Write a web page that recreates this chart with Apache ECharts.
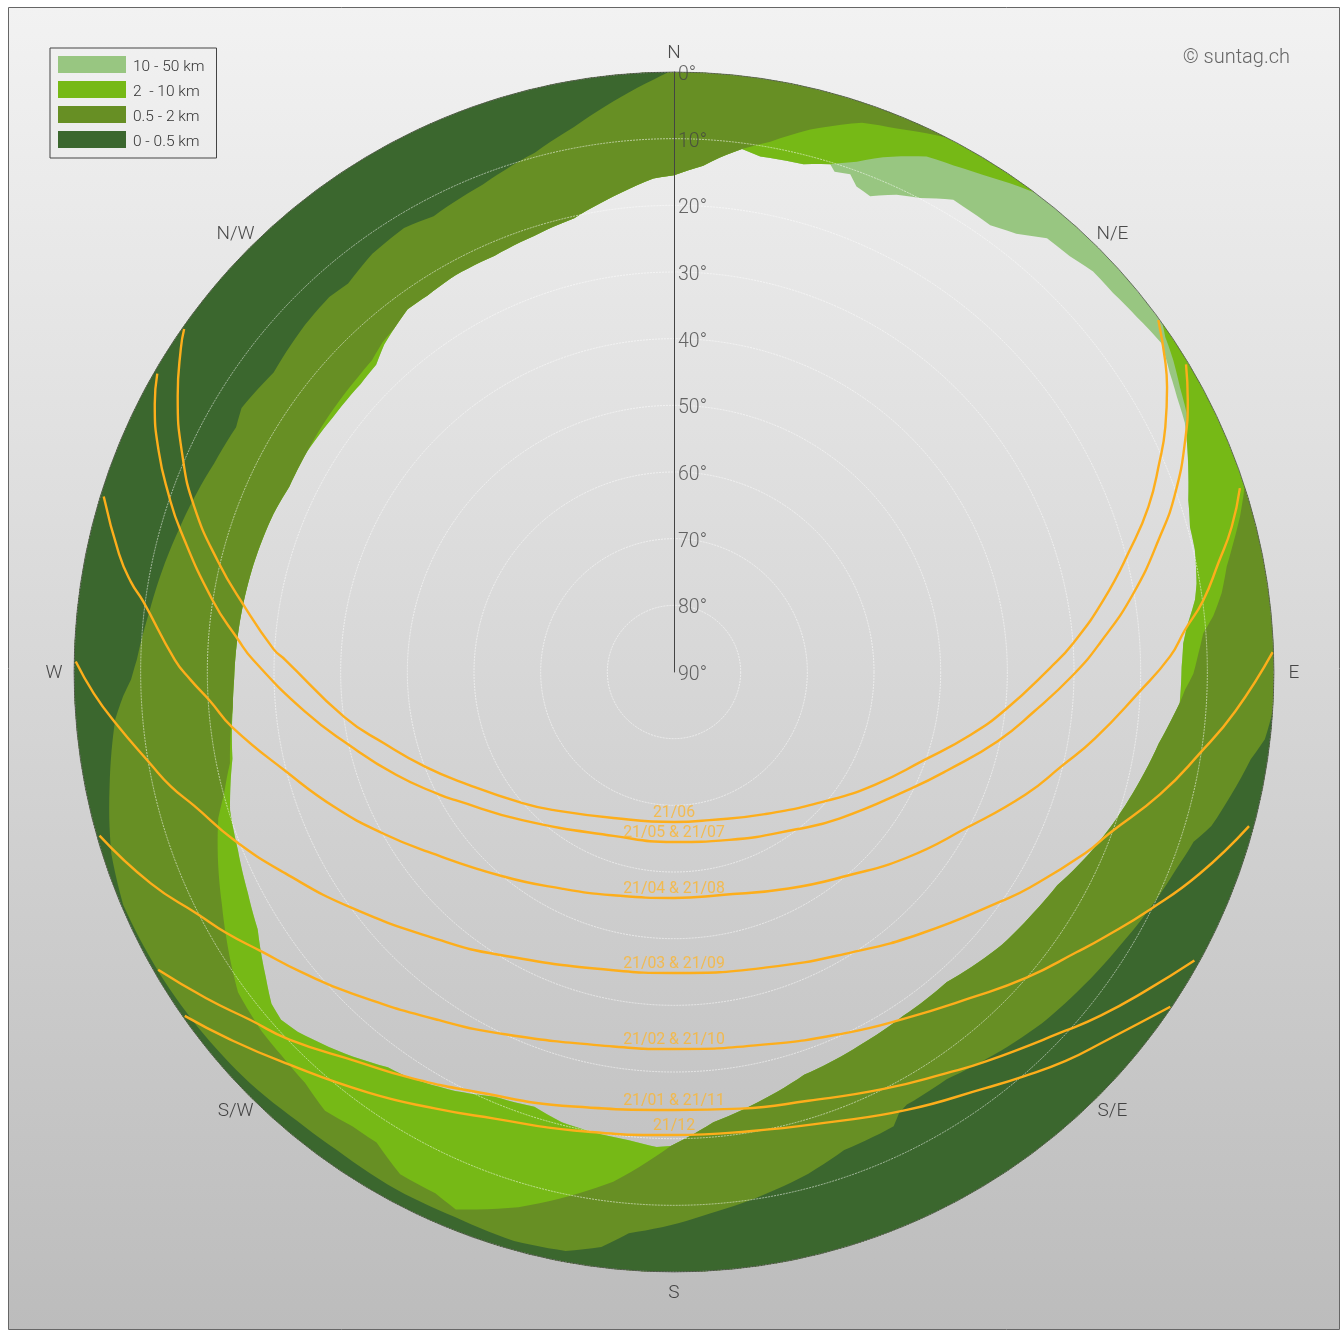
<!DOCTYPE html>
<html><head><meta charset="utf-8">
<style>html,body{margin:0;padding:0;background:#fff}#c{width:1341px;height:1330px}</style>
<script src="https://cdn.jsdelivr.net/npm/echarts@6/dist/echarts.min.js"></script>
</head><body><div id="c"></div>
<script>
// All profile data: [azimuth deg, elevation deg]
const legendNames = ['10 - 50 km', '2  - 10 km', '0.5 - 2 km', '0 - 0.5 km'];
const compass = ['N','N/E','E','S/E','S','S/W','W','N/W'];
const compassAzimuths = [0,45,90,135,180,225,270,315];
const compassElevation = -3;
const elevationTicks = [0,10,20,30,40,50,60,70,80,90];

const edgeNorth = [[0,15.5],[3.3,13.95],[5.1,12.5],[7.4,10.9]];
const edgeNorthBright = [[9.5,11.6],[14.3,11.4],[17.1,10.3]];
const midTopNE = [[10.3,9.15],[14.1,6.1],[18.9,2.9],[22.3,1.9],[25.1,0.75],[27,0],[72,0],[74.7,2],[77,3.9],[79.2,5.6],[81.8,7],[84.1,8.7],[85.8,10.4],[88,11.3],[90.2,12.1],[92,13.3],[93.5,14]];
const brightTopNE = [[19.7,8.7],[22.1,6.65],[24.6,4.9],[26.1,3.9],[28.9,3.2],[31.9,2.2],[34.5,1.05],[37,0],[54.5,0],[55.7,0.8],[58,1.7],[60.6,2.9],[63.2,3.85],[65.7,5.6]];
const lightTopNE = [[17.8,11.2],[19.5,10.8],[20.6,12.2],[22.4,12.8],[25,11],[27.4,9.9],[30.6,7.7],[31.9,7.8],[35.3,7.9],[38,6.6],[40.7,4.2],[43.6,3.9],[46.3,3.05],[49.2,3],[52.5,2.5],[56,1.8],[58.9,3.15],[61.3,4],[64,4.75],[65.7,5.6]];
const edgeEastBright = [[68.9,7.3],[71.5,8.65],[74.3,9.6],[76.8,9.75],[80.4,10.5],[82.1,11.1],[85,12.8],[86.8,13.5],[89.4,13.85],[93.5,14]];
const edgeSouthEast = [[95.4,15],[98.4,16.5],[103.9,18.5],[109.1,20.35],[113.6,22],[119.1,24.2],[123.8,25.1],[129.7,26],[138.7,28.05],[146.3,28],[153.6,27.45],[162.1,26.5],[169.1,24.2],[175,22.2],[180.4,18.9]];
const midTopSW = [[186.8,13],[191.2,9.9],[196.2,6.4],[202.1,3],[204.6,4],[208.6,4.2],[212.3,6.5],[215.3,6.5],[218.5,5.9],[221.9,7.15],[225.7,7.7],[228.9,7.95],[233.7,8.85],[239.4,11.95],[242.7,13.7],[247.9,16.15],[252.2,18.2],[254.8,20.05],[258.4,22],[265.4,23.6]];
const brightTopSW = [[182.1,18.7],[185.5,19.45],[189.9,19.9],[194,20.4],[197.8,21.5],[202.9,20.85],[207.6,19.1],[213.3,17.3],[215.9,16.8],[220.8,14.4],[226.3,11.9],[228.5,11.3],[230.5,11.75],[233.3,13.6],[238.3,16.6],[242.6,18],[247.8,19.35],[252.7,20.25],[258.9,22.5],[265.4,23.6]];
const edgeWest = [[269,24],[279.3,24.6],[284.4,24.9],[291.5,25.4],[295.7,25.95],[301,25.8]];
const brightSliverTop = [[306.7,26.15],[312.6,26.15],[315.9,25.8],[318.5,24.4],[320.8,23.55]];
const midSliverTop = [[306.7,25.5],[312.6,25.2],[315.9,24.9],[318.5,24],[320.8,23.55]];
const edgeNorthWest = [[323.7,22.5],[326.8,22.5],[331.1,22.05],[336.7,22],[342.2,21.3],[347.6,20.3],[352.7,18.1],[357.6,15.9],[360,15.5]];
const darkTop = [[0,0],[93.8,0],[96.5,0.8],[98.6,2.5],[102.4,4.4],[106,6.15],[108.1,8],[111.5,9.1],[116,10.2],[121.4,11.5],[128.4,12.8],[133.7,13.7],[141.1,15.4],[146.2,16.5],[151.7,16.3],[152.9,15.8],[154.2,14.3],[160.4,13.9],[165,12.1],[171,10.2],[176.2,8.6],[180.4,7],[184.6,5.55],[187.2,3.05],[190.6,1.65],[195.7,1.35],[201.9,1.9],[208.2,1.9],[215.2,2.25],[220,2.1],[225.9,1.4],[233.2,0.9],[239.8,0.55],[247.1,0.3],[252.1,1.3],[255.5,2.5],[258.5,3.6],[262,4.8],[265.2,5.9],[267.5,7.3],[269.2,8.55],[271.3,9.4],[276.4,10.75],[286,12.7],[294.4,14.25],[299.2,14.75],[301.4,14],[306.8,15],[313.3,14],[317.4,13.6],[320,13.95],[324.2,12.65],[328.7,12.05],[332.2,12.7],[338.6,11.45],[345,9.35],[349.6,6.9],[353.9,3.95],[358,1.1],[359.5,0],[360,0]];

const sun0621 = [[54,0.2],[57.6,2.75],[60,4.6],[63.5,7.65],[66.7,10.75],[70.8,14.65],[75,19.2],[80.5,24.7],[85.9,30],[89.4,33.6],[96.4,39.9],[102,44.55],[109.6,50.35],[119.2,55.4],[129.8,59.9],[147.4,64.7],[166.5,67.15],[180,67.5],[202.5,66.3],[221,62.55],[229.1,59.95],[241.5,54.7],[249.1,50.1],[256.2,45.2],[262.2,40.1],[271.8,31.65],[273.3,29.8],[278.8,24.7],[283.6,19.65],[289,13.9],[293.8,9.4],[299.1,4.8],[303.3,1.5],[305,0.3]];
const sun0521 = [[59,0.4],[62.1,2.8],[65.6,5.8],[70.4,10.2],[74.4,14.3],[80.3,20.1],[86.1,25.95],[90.4,30.1],[96.3,35.7],[102,40.3],[109.9,46.5],[116.2,50.4],[131.4,56.8],[142.1,60.1],[161.8,63.5],[180,64.5],[200.3,63.8],[225.7,58.2],[239.6,52],[242.4,50.3],[249.7,45.55],[257.4,40],[263.9,34.3],[271.6,26.9],[274.3,24.4],[278.9,19.9],[286,13],[289.3,9.7],[293.2,5.9],[297.3,2.35],[300,0.5]];
const sun0421 = [[72,0.75],[75.4,3.55],[78.7,6.75],[82.3,9.9],[85.3,13.1],[88.2,15.55],[92.6,20.3],[99,26.1],[103.7,30.2],[109.2,34.15],[118.1,40.3],[128.5,45.3],[139.5,49.85],[152.1,53.25],[168,55.8],[180,56.1],[195.2,55.3],[207.4,53.4],[220,50],[233.9,44.25],[240.8,40.2],[248,35.4],[255.7,29.85],[262.9,23.2],[266.4,20.3],[269.1,17.45],[271.4,15.1],[277.6,9.65],[279.4,7.45],[282,4.9],[287.1,0.5]];
const sun0321 = [[88.1,0.15],[94,5.6],[98.8,10.2],[104.1,14.8],[110.4,20.4],[113.8,22.6],[121.2,27.6],[124.9,30],[136.3,35.9],[147.6,40.2],[162.9,43.6],[180,44.85],[191.5,44.35],[211.8,40.1],[221.2,36.6],[233.7,30.15],[242.6,24.35],[249.1,19.35],[254.4,15.3],[257.2,12.6],[260,10.3],[264.8,5.85],[267.9,2.9],[271,0.25]];
const sun0221 = [[105,0.7],[111,5.55],[116.5,10.2],[121.6,14.15],[124.8,16.4],[131,20.05],[137.7,23.9],[146.5,27.6],[154.8,30.1],[165.7,32.4],[180,33.45],[189.2,33.1],[204.8,30.1],[214,27],[225,21.75],[231.2,18.2],[235.9,15.25],[239.8,12.25],[243,9.9],[248,5.35],[254.1,0.4]];
const sun0121 = [[119,0.75],[124.2,4.7],[128.8,7.8],[132.5,10.35],[141.3,15.15],[145.8,17.25],[153.3,20],[162.6,22.6],[171.3,23.75],[180,24.3],[193,23.1],[205.8,20.2],[213.3,17.3],[219.2,14.65],[226.3,10.2],[230.7,7.7],[235.1,4.45],[240,0.65]];
const sun1221 = [[124,0.2],[130.6,4.9],[134.8,7.2],[139.3,9.9],[143.1,12],[152,15.6],[161.1,18.6],[170.7,20.2],[180,20.55],[192.3,19.6],[201.9,17.8],[208.6,15.4],[216,12],[224.8,7.3],[230.4,3.55],[234.9,0.3]];
const sunLabels = ['21/06','21/05 & 21/07','21/04 & 21/08','21/03 & 21/09','21/02 & 21/10','21/01 & 21/11','21/12'];
const sunPaths = [sun0621,sun0521,sun0421,sun0321,sun0221,sun0121,sun1221];

const ridgeLight = [].concat(edgeNorth,edgeNorthBright,lightTopNE,edgeEastBright,edgeSouthEast,brightTopSW,edgeWest,brightSliverTop,edgeNorthWest);
const ridgeBright = [].concat(edgeNorth,edgeNorthBright,brightTopNE,edgeEastBright,edgeSouthEast,brightTopSW,edgeWest,brightSliverTop,edgeNorthWest);
const ridgeMid = [].concat(edgeNorth,midTopNE,edgeSouthEast,midTopSW,edgeWest,midSliverTop,edgeNorthWest);
const ridgeDark = darkTop;
const ridges = [ridgeLight,ridgeBright,ridgeMid,ridgeDark];
const colors = ['#98c681','#76b916','#678f24','#3b672e'];

function polarWalk(pts){
  const out=[];
  for(let i=0;i<pts.length-1;i++){
    const a=pts[i],b=pts[i+1],n=Math.max(1,Math.ceil(Math.abs(b[0]-a[0])));
    for(let k=0;k<n;k++){const t=k/n;out.push([a[0]+(b[0]-a[0])*t,a[1]+(b[1]-a[1])*t]);}
  }
  out.push(pts[pts.length-1]);
  return out;
}
function bandSeries(i){
  const ring=polarWalk([[0,0],[360,0]]).concat(polarWalk(ridges[i]).reverse());
  return {
    type:'custom',name:legendNames[i],coordinateSystem:'polar',silent:true,z:2,animation:false,
    itemStyle:{color:colors[i]},data:[[0,0]],
    renderItem:function(params,api){
      return {type:'polygon',shape:{points:ring.map(p=>api.coord([p[1],p[0]]))},style:{fill:colors[i]}};
    }
  };
}
function sunSeries(i){
  return {
    type:'line',coordinateSystem:'polar',silent:true,z:5,animation:false,clip:false,smooth:0.5,
    showSymbol:false,lineStyle:{color:'#fdae1b',width:2.4},
    data:sunPaths[i].map(p=>[p[1],p[0]])
  };
}
function sunLabelSeries(){
  return {
    type:'scatter',coordinateSystem:'polar',silent:true,z:6,animation:false,clip:false,symbolSize:0,
    data:sunPaths.map((path,i)=>{
      const p=path.find(q=>q[0]===180);
      return {value:[p[1],p[0]],label:{show:true,position:'top',distance:1,formatter:sunLabels[i]}};
    }),
    label:{color:'#fbb531',fontFamily:'Roboto',fontSize:15.8}
  };
}
function compassSeries(){
  return {
    type:'scatter',coordinateSystem:'polar',silent:true,z:6,animation:false,clip:false,symbolSize:0,
    data:compassAzimuths.map((az,i)=>({value:[compassElevation,az],label:{show:true,position:'inside',align:'center',verticalAlign:'middle',offset:[0,1],formatter:compass[i]}})),
    label:{fontFamily:'Roboto',fontWeight:300,fontSize:19,color:'#222'}
  };
}
function elevationLabelSeries(){
  return {
    type:'scatter',coordinateSystem:'polar',silent:true,z:6,animation:false,clip:false,symbolSize:0,
    data:elevationTicks.map(e=>({value:[e,0],label:{show:true,position:'right',distance:4,offset:[0,3],formatter:e+'°'}})),
    label:{fontFamily:'Roboto',fontWeight:300,fontSize:19.5,color:'#444'}
  };
}

const chart=echarts.init(document.getElementById('c'),null,{renderer:'canvas'});
chart.setOption({
  animation:false,
  backgroundColor:'#ffffff',
  textStyle:{fontFamily:'Roboto'},
  title:{text:'© suntag.ch',right:46,top:43,textStyle:{fontFamily:'Roboto',fontWeight:300,fontSize:20,color:'#666'}},
  legend:{
    orient:'vertical',left:50,top:48,padding:[8,12,8,8],itemWidth:68,itemHeight:17,itemGap:6,icon:'rect',
    borderColor:'#444',borderWidth:1,data:legendNames,selectedMode:false,
    formatter:n=>'{t|'+n+'}',
    textStyle:{rich:{t:{fontFamily:'Roboto',fontWeight:300,fontSize:15.5,color:'#333',padding:[5,0,0,2]}}}
  },
  polar:{center:[674,672],radius:[0,600]},
  angleAxis:{
    type:'value',min:0,max:360,interval:45,startAngle:90,clockwise:true,z:3,
    axisTick:{show:false},splitLine:{show:false},axisLabel:{show:false},
    axisLine:{lineStyle:{color:'#444',width:0.7}}
  },
  radiusAxis:{
    type:'value',min:0,max:90,interval:10,inverse:true,z:3,
    axisLine:{lineStyle:{color:'#444',width:1}},axisTick:{show:false},axisLabel:{show:false},
    splitLine:{lineStyle:{color:'rgba(255,255,255,0.6)',width:0.9,type:[2,1]}}
  },
  graphic:[{type:'rect',z:-10,silent:true,shape:{x:8.5,y:7.5,width:1331,height:1322},
    style:{fill:{type:'linear',x:0,y:0,x2:0,y2:1,colorStops:[{offset:0,color:'#f2f2f2'},{offset:1,color:'#bcbcbc'}]},stroke:'#666',lineWidth:1}}],
  series:[0,1,2,3].map(bandSeries).concat([0,1,2,3,4,5,6].map(sunSeries),[sunLabelSeries(),compassSeries(),elevationLabelSeries()])
});
</script></body></html>
